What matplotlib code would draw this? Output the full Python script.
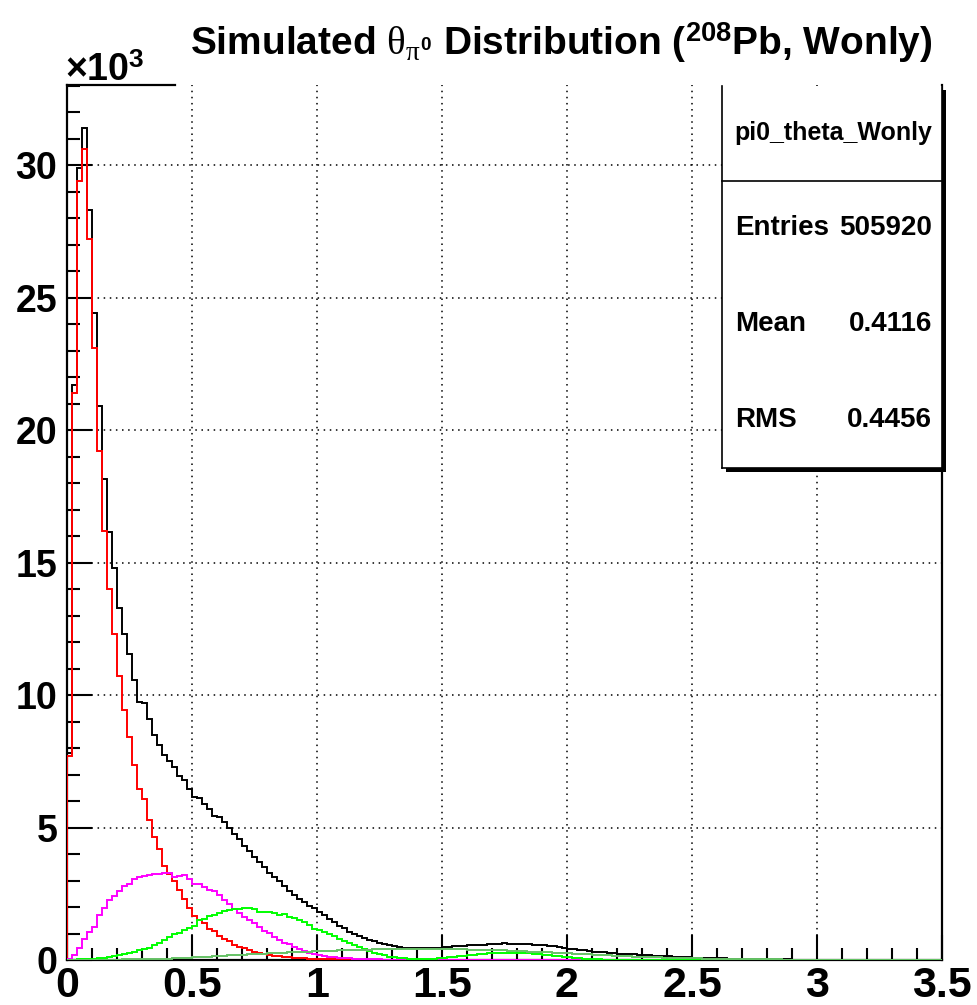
import numpy as np
import matplotlib
matplotlib.use("Agg")
import matplotlib.pyplot as plt
from matplotlib.lines import Line2D
from matplotlib.ticker import MultipleLocator, FuncFormatter

plt.rcParams['font.family'] = ['Liberation Sans', 'DejaVu Sans']
plt.rcParams['font.weight'] = 'bold'
plt.rcParams['mathtext.fontset'] = 'custom'
plt.rcParams['mathtext.rm'] = 'Liberation Sans:bold'
plt.rcParams['mathtext.it'] = 'Liberation Serif:normal'

# histogram binning: 175 bins of 0.02 between 0 and 3.5
x_min, x_max, n_bins = 0.0, 3.5, 175

# total (black)
total = [
    7800, 21700, 29900, 31400, 28300, 24400, 20900, 18150, 16150, 14800,
    13300, 12300, 11550, 10550, 9750, 9700, 9100, 8500, 8100, 7750,
    7500, 7300, 6950, 6800, 6450, 6150, 6120, 5900, 5700, 5450,
    5400, 5200, 5000, 4750, 4550, 4300, 4100, 3900, 3700, 3500,
    3300, 3150, 2980, 2800, 2600, 2450, 2300, 2200, 2050, 1950,
    1820, 1680, 1540, 1420, 1300, 1200, 1060, 970, 890, 820,
    750, 700, 640, 600, 550, 520, 480, 460, 470, 450,
    440, 450, 440, 440, 460, 480, 480, 510, 520, 530,
    550, 560, 580, 580, 600, 620, 600, 630, 620, 620,
    610, 600, 590, 580, 570, 550, 530, 510, 480, 450,
    420, 400, 380, 360, 340, 320, 300, 285, 270, 260,
    245, 230, 220, 210, 200, 190, 175, 165, 155, 145,
    135, 125, 115, 110, 100, 92, 85, 80, 75, 68,
    62, 58, 54, 50, 46, 42, 40, 37, 34, 31,
    28, 26, 24, 22, 20, 18, 17, 16, 15, 14,
    13, 12, 11, 10, 10, 9, 9, 8, 8, 7,
    7, 6, 6, 6, 5, 5, 5, 4, 4, 4,
    3, 3, 3, 2, 2,
]

# red component
red = [
    7700, 21400, 29400, 30600, 27200, 23100, 19200, 16200, 14000, 12300,
    10700, 9420, 8420, 7340, 6450, 6070, 5280, 4640, 4190, 3560,
    3260, 2970, 2640, 2300, 1970, 1650, 1500, 1380, 1180, 1100,
    920, 800, 700, 560, 500, 460, 380, 310, 250, 220,
    180, 150, 140, 120, 100, 80, 70, 60, 50, 40,
    35, 30, 25, 22, 20, 18, 15, 12, 10, 8,
    6, 5, 4, 3, 2, 2, 1, 1, 0, 0,
] + [0] * 105

# magenta component
magenta = [
    50, 190, 450, 810, 1070, 1260, 1700, 1950, 2260, 2420,
    2600, 2790, 2860, 3040, 3120, 3170, 3220, 3240, 3250, 3270,
    3270, 3140, 3180, 3210, 3040, 2870, 2850, 2770, 2640, 2600,
    2450, 2260, 2110, 1910, 1760, 1610, 1510, 1380, 1260, 1110,
    1010, 880, 750, 650, 600, 500, 400, 350, 280, 230,
    180, 150, 130, 100, 80, 70, 60, 50, 40, 35,
    30, 25, 20, 18, 15, 12, 10, 9, 8, 7,
    6, 5, 5, 4, 4, 3, 3, 3, 2, 2,
    2, 2, 1, 1, 1, 1, 1, 1, 1, 1,
] + [0] * 85

# bright green component
green = [
    0, 10, 20, 25, 30, 50, 70, 90, 120, 150,
    190, 230, 270, 310, 360, 400, 450, 550, 650, 750,
    880, 980, 1030, 1130, 1190, 1280, 1510, 1530, 1660, 1700,
    1760, 1860, 1890, 1910, 1910, 1950, 1950, 1910, 1820, 1800,
    1800, 1760, 1700, 1720, 1630, 1570, 1510, 1450, 1320, 1160,
    1130, 1070, 970, 910, 800, 700, 640, 570, 480, 400,
    330, 270, 220, 170, 130, 100, 80, 60, 50, 50,
    40, 40, 50, 50, 60, 80, 100, 120, 140, 160,
    180, 200, 220, 240, 250, 260, 270, 270, 280, 270,
    270, 260, 250, 240, 220, 200, 180, 160, 150, 130,
    110, 90, 70, 55, 40, 30, 20, 15, 10, 8,
    6, 5, 4, 3, 3, 2, 2, 1, 1, 1,
] + [0] * 55

# pale green component
pale_green = [
    0, 0, 0, 0, 5, 5, 8, 10, 12, 15,
    17, 20, 22, 25, 28, 30, 33, 36, 40, 45,
    50, 60, 70, 80, 90, 100, 110, 120, 130, 140,
    150, 160, 170, 180, 190, 200, 210, 220, 230, 240,
    250, 260, 270, 280, 290, 295, 300, 310, 320, 330,
    340, 345, 350, 355, 360, 370, 375, 380, 385, 390,
    395, 400, 405, 410, 410, 415, 415, 420, 420, 420,
    420, 420, 415, 415, 415, 410, 410, 405, 400, 400,
    395, 390, 385, 380, 375, 370, 365, 360, 350, 345,
    335, 330, 320, 315, 305, 300, 290, 280, 270, 260,
    250, 240, 230, 220, 210, 200, 190, 180, 170, 160,
    150, 145, 135, 130, 120, 115, 108, 100, 95, 90,
    85, 80, 75, 70, 66, 62, 58, 54, 50, 47,
    44, 41, 38, 36, 33, 31, 29, 27, 25, 23,
    22, 20, 19, 18, 17, 15, 14, 13, 12, 11,
    10, 10, 9, 9, 8, 8, 7, 7, 6, 6,
    6, 5, 5, 5, 4, 4, 4, 3, 3, 3,
    3, 2, 2, 2, 2,
]

stats_name = "pi0_theta_Wonly"
stats_rows = [("Entries", "505920"), ("Mean", "0.4116"), ("RMS", "0.4456")]

W, H = 977, 1005
fig = plt.figure(figsize=(W / 100, H / 100), dpi=100)


def fx(px):
    return px / W


def fy(py):
    return 1 - py / H


ax = fig.add_axes([fx(67), fy(960), (942 - 67) / W, (960 - 85) / H])
edges = np.linspace(x_min, x_max, n_bins + 1)

ax.stairs(total, edges, color='black', lw=1.4, zorder=3)
ax.stairs(red, edges, color='#ff0000', lw=1.4, zorder=3)
ax.stairs(magenta, edges, color='#ff00ff', lw=1.4, zorder=3)
ax.stairs(green, edges, color='#00ff00', lw=1.4, zorder=3)
ax.stairs(pale_green, edges, color='#66c266', lw=1.4, zorder=3)

ax.set_xlim(0, 3.5)
ax.set_ylim(0, 33020)

ax.xaxis.set_major_locator(MultipleLocator(0.5))
ax.xaxis.set_minor_locator(MultipleLocator(0.1))
ax.yaxis.set_major_locator(MultipleLocator(5000))
ax.yaxis.set_minor_locator(MultipleLocator(1000))
ax.xaxis.set_major_formatter(FuncFormatter(lambda v, p: f"{v:g}"))
ax.yaxis.set_major_formatter(FuncFormatter(lambda v, p: f"{v / 1000:g}"))

ax.tick_params(which='both', direction='in', top=False, right=False, width=1.5)
ax.tick_params(which='major', length=18)
ax.tick_params(which='minor', length=9)
ax.tick_params(axis='x', labelsize=31, pad=4)
ax.tick_params(axis='y', labelsize=27, pad=7)

ax.grid(True, which='major', color='black', lw=1.1, linestyle=(0, (1, 3)))
ax.set_axisbelow(True)

ax.spines['top'].set_visible(False)
for s in ['left', 'right', 'bottom']:
    ax.spines[s].set_linewidth(1.6)

# short top frame piece left of the title
fig.add_artist(Line2D([fx(67), fx(175)], [fy(85), fy(85)], color='black', lw=1.6))
fig.text(fx(65), fy(81), r"$\times$10$^{3}$", fontsize=27, ha='left', va='baseline')

fig.text(fx(561), fy(55), r"Simulated $\theta_{\pi^{\mathrm{0}}}$ Distribution ($^{208}$Pb, Wonly)",
         fontsize=28, ha='center', va='baseline')

# stats box
bx0, bx1, by0, by1 = 722, 942, 86, 468
fig.patches.append(plt.Rectangle((fx(bx0 + 4), fy(by1 + 4)), (bx1 - bx0) / W, (by1 - by0) / H,
                                 transform=fig.transFigure, facecolor='black', edgecolor='none', zorder=5))
fig.patches.append(plt.Rectangle((fx(bx0), fy(by1)), (bx1 - bx0) / W, (by1 - by0) / H,
                                 transform=fig.transFigure, facecolor='white', edgecolor='none', zorder=6))
for xs, ys in [([bx0, bx0], [by0, by1]), ([bx1, bx1], [by0, by1]), ([bx0, bx1], [by1, by1]),
               ([bx0, bx1], [181, 181])]:
    fig.add_artist(Line2D([fx(v) for v in xs], [fy(v) for v in ys], color='black', lw=1.2, zorder=7))

fig.text(fx(833), fy(133), stats_name, fontsize=18, ha='center', va='center', zorder=8)
for i, (k, v) in enumerate(stats_rows):
    yy = fy(228 + 96 * i)
    fig.text(fx(735), yy, k, fontsize=20, ha='left', va='center', zorder=8)
    fig.text(fx(932), yy, v, fontsize=20, ha='right', va='center', zorder=8)

fig.savefig("out.png", dpi=100)
